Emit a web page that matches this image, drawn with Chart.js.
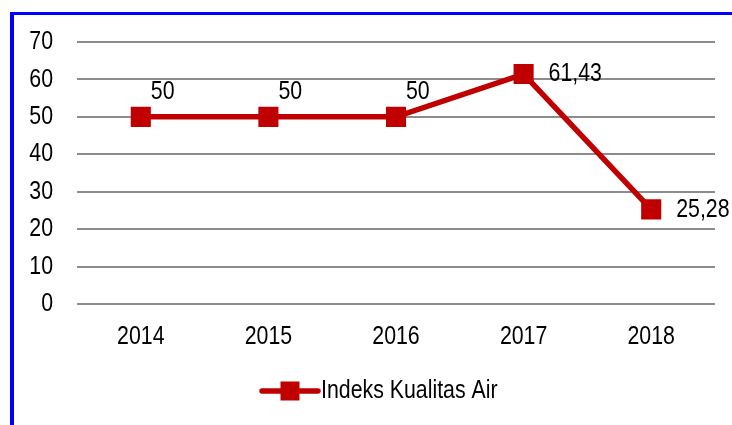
<!DOCTYPE html>
<html>
<head>
<meta charset="utf-8">
<script src="https://cdn.jsdelivr.net/npm/chart.js@4.4.1/dist/chart.umd.min.js"></script>
<style>
    html, body { margin: 0; padding: 0; background: #fff; overflow: hidden; }
    #frame {
        position: absolute; left: 10px; top: 12px;
        width: 900px; height: 600px;
        border-left: 4px solid #0000ff;
        border-top: 3px solid #0000ff;
    }
    #wrap { position: absolute; left: 0; top: 0; width: 732px; height: 425px; }
</style>
</head>
<body>
<div id="frame"></div>
<div id="wrap"><canvas id="chart" width="732" height="425"></canvas></div>
<script>
const years = ["2014", "2015", "2016", "2017", "2018"];
const airIndex = [50, 50, 50, 61.43, 25.28];
const pointLabels = ["50", "50", "50", "61,43", "25,28"];
const labelSide = ["top", "top", "top", "right", "right"];
const seriesName = "Indeks Kualitas Air";

const FONT = "26px 'Liberation Sans', Arial, sans-serif";
const RED = "#c00000";

// Arial Narrow look: regular Liberation Sans squeezed to 82% width
function narrowText(ctx, text, x, y, align) {
    ctx.save();
    ctx.font = FONT;
    ctx.fillStyle = "#000";
    ctx.textAlign = align;
    ctx.textBaseline = "middle";
    ctx.translate(x, y);
    ctx.scale(0.82, 1);
    ctx.fillText(text, 0, 0);
    ctx.restore();
}

const textPlugin = {
    id: "narrowText",
    afterDraw(chart) {
        const { ctx } = chart;
        const xs = chart.scales.x, ys = chart.scales.y;

        // axis tick labels
        ys.ticks.forEach((t, i) => {
            narrowText(ctx, String(t.value), 53, ys.getPixelForTick(i), "right");
        });
        xs.ticks.forEach((t, i) => {
            narrowText(ctx, years[i], xs.getPixelForTick(i), 337, "center");
        });

        // value labels
        chart.getDatasetMeta(0).data.forEach((pt, i) => {
            if (labelSide[i] === "top") {
                narrowText(ctx, pointLabels[i], pt.x + 10, pt.y - 25, "left");
            } else {
                narrowText(ctx, pointLabels[i], pt.x + 25, pt.y, "left");
            }
        });

        // legend: line with square marker + name
        const x0 = 262, y = 391;
        ctx.save();
        ctx.strokeStyle = RED;
        ctx.lineWidth = 5.5;
        ctx.lineCap = "round";
        ctx.beginPath();
        ctx.moveTo(x0, y);
        ctx.lineTo(x0 + 56, y);
        ctx.stroke();
        ctx.fillStyle = RED;
        ctx.fillRect(x0 + 18.5, y - 9.5, 19, 19);
        ctx.restore();
        narrowText(ctx, seriesName, x0 + 59, y, "left");
    }
};

new Chart(document.getElementById("chart").getContext("2d"), {
    type: "line",
    data: {
        labels: years,
        datasets: [{
            label: seriesName,
            data: airIndex,
            borderColor: RED,
            backgroundColor: RED,
            borderWidth: 5.5,
            pointStyle: "rect",
            pointRadius: 14.2,
            pointHoverRadius: 14.2,
            pointBorderWidth: 0,
            tension: 0
        }]
    },
    options: {
        responsive: false,
        animation: false,
        layout: { padding: { top: 42, right: 17, left: 0, bottom: 0 } },
        plugins: {
            legend: { display: false },
            tooltip: { enabled: false }
        },
        scales: {
            x: {
                offset: true,
                grid: { display: false, drawTicks: false },
                border: { display: false },
                ticks: { display: false },
                afterFit(scale) { scale.height = 121; }
            },
            y: {
                min: 0,
                max: 70,
                grid: { color: "#8c8c8c", lineWidth: 2, drawTicks: false },
                border: { display: false },
                ticks: { display: false, stepSize: 10 },
                afterFit(scale) { scale.width = 77; }
            }
        }
    },
    plugins: [textPlugin]
});
</script>
</body>
</html>
